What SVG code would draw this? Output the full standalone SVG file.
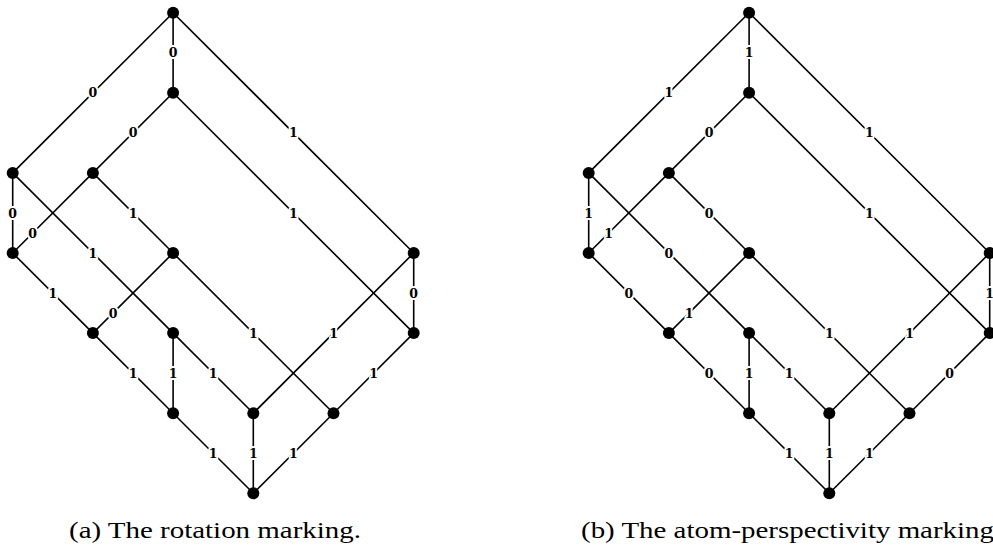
<svg xmlns="http://www.w3.org/2000/svg" width="993" height="552" viewBox="0 0 993 552">
<style>
.e{stroke:#000;stroke-width:1.6;fill:none}
.n{fill:#000}
.l{font-family:"DejaVu Serif",serif;font-size:12.5px;font-weight:bold;text-anchor:middle;dominant-baseline:central;fill:#000;stroke:#fff;stroke-width:4;stroke-linejoin:round;paint-order:stroke}
.cap{font-family:"Liberation Serif","Times New Roman",serif;font-size:24px;fill:#000}
</style>
<defs>
<circle id="dot" r="6" class="n"/>
</defs>
<rect width="993" height="552" fill="#fff"/>

<!-- Graph (a) -->
<g id="graph-a">
<g id="a-edges">
<line class="e" x1="173.1" y1="12.7" x2="173.1" y2="92.8"/>
<line class="e" x1="173.1" y1="12.7" x2="12.7" y2="172.9"/>
<line class="e" x1="173.1" y1="12.7" x2="413.7" y2="253"/>
<line class="e" x1="173.1" y1="92.8" x2="92.9" y2="172.9"/>
<line class="e" x1="173.1" y1="92.8" x2="413.7" y2="333.1"/>
<line class="e" x1="12.7" y1="172.9" x2="12.7" y2="253"/>
<line class="e" x1="12.7" y1="172.9" x2="173.1" y2="333.1"/>
<line class="e" x1="92.9" y1="172.9" x2="12.7" y2="253"/>
<line class="e" x1="92.9" y1="172.9" x2="173.1" y2="253"/>
<line class="e" x1="12.7" y1="253" x2="92.9" y2="333.1"/>
<line class="e" x1="173.1" y1="253" x2="92.9" y2="333.1"/>
<line class="e" x1="173.1" y1="253" x2="333.5" y2="413.2"/>
<line class="e" x1="413.7" y1="253" x2="413.7" y2="333.1"/>
<line class="e" x1="413.7" y1="253" x2="253.3" y2="413.2"/>
<line class="e" x1="92.9" y1="333.1" x2="173.1" y2="413.2"/>
<line class="e" x1="173.1" y1="333.1" x2="173.1" y2="413.2"/>
<line class="e" x1="173.1" y1="333.1" x2="253.3" y2="413.2"/>
<line class="e" x1="413.7" y1="333.1" x2="333.5" y2="413.2"/>
<line class="e" x1="173.1" y1="413.2" x2="253.3" y2="493.3"/>
<line class="e" x1="253.3" y1="413.2" x2="253.3" y2="493.3"/>
<line class="e" x1="333.5" y1="413.2" x2="253.3" y2="493.3"/>
<g id="a-labels">
<text class="l" x="173.1" y="52.7">0</text>
<text class="l" x="92.9" y="92.8">0</text>
<text class="l" x="293.4" y="132.9">1</text>
<text class="l" x="133" y="132.9">0</text>
<text class="l" x="293.4" y="213">1</text>
<text class="l" x="12.7" y="213">0</text>
<text class="l" x="92.9" y="253">1</text>
<text class="l" x="32.7" y="233">0</text>
<text class="l" x="133" y="213">1</text>
<text class="l" x="52.8" y="293">1</text>
<text class="l" x="113" y="313.1">0</text>
<text class="l" x="253.3" y="333.1">1</text>
<text class="l" x="413.7" y="293">0</text>
<text class="l" x="333.5" y="333.1">1</text>
<text class="l" x="133" y="373.1">1</text>
<text class="l" x="173.1" y="373.1">1</text>
<text class="l" x="213.2" y="373.1">1</text>
<text class="l" x="373.6" y="373.1">1</text>
<text class="l" x="213.2" y="453.2">1</text>
<text class="l" x="253.3" y="453.2">1</text>
<text class="l" x="293.4" y="453.2">1</text>
</g>
</g>
<g id="a-T"><use href="#dot" x="173.1" y="12.7"/></g>
<g id="a-A"><use href="#dot" x="173.1" y="92.8"/></g>
<g id="a-B"><use href="#dot" x="12.7" y="172.9"/></g>
<g id="a-C"><use href="#dot" x="92.9" y="172.9"/></g>
<g id="a-D"><use href="#dot" x="12.7" y="253"/></g>
<g id="a-E"><use href="#dot" x="173.1" y="253"/></g>
<g id="a-F"><use href="#dot" x="413.7" y="253"/></g>
<g id="a-G"><use href="#dot" x="92.9" y="333.1"/></g>
<g id="a-H"><use href="#dot" x="173.1" y="333.1"/></g>
<g id="a-I"><use href="#dot" x="413.7" y="333.1"/></g>
<g id="a-J"><use href="#dot" x="173.1" y="413.2"/></g>
<g id="a-K"><use href="#dot" x="253.3" y="413.2"/></g>
<g id="a-L"><use href="#dot" x="333.5" y="413.2"/></g>
<g id="a-M"><use href="#dot" x="253.3" y="493.3"/></g>
<text class="cap" x="69" y="538" textLength="292" lengthAdjust="spacingAndGlyphs">(a) The rotation marking.</text>
</g>

<!-- Graph (b) -->
<g id="graph-b" transform="translate(576,0)">
<g id="b-edges">
<line class="e" x1="173.1" y1="12.7" x2="173.1" y2="92.8"/>
<line class="e" x1="173.1" y1="12.7" x2="12.7" y2="172.9"/>
<line class="e" x1="173.1" y1="12.7" x2="413.7" y2="253"/>
<line class="e" x1="173.1" y1="92.8" x2="92.9" y2="172.9"/>
<line class="e" x1="173.1" y1="92.8" x2="413.7" y2="333.1"/>
<line class="e" x1="12.7" y1="172.9" x2="12.7" y2="253"/>
<line class="e" x1="12.7" y1="172.9" x2="173.1" y2="333.1"/>
<line class="e" x1="92.9" y1="172.9" x2="12.7" y2="253"/>
<line class="e" x1="92.9" y1="172.9" x2="173.1" y2="253"/>
<line class="e" x1="12.7" y1="253" x2="92.9" y2="333.1"/>
<line class="e" x1="173.1" y1="253" x2="92.9" y2="333.1"/>
<line class="e" x1="173.1" y1="253" x2="333.5" y2="413.2"/>
<line class="e" x1="413.7" y1="253" x2="413.7" y2="333.1"/>
<line class="e" x1="413.7" y1="253" x2="253.3" y2="413.2"/>
<line class="e" x1="92.9" y1="333.1" x2="173.1" y2="413.2"/>
<line class="e" x1="173.1" y1="333.1" x2="173.1" y2="413.2"/>
<line class="e" x1="173.1" y1="333.1" x2="253.3" y2="413.2"/>
<line class="e" x1="413.7" y1="333.1" x2="333.5" y2="413.2"/>
<line class="e" x1="173.1" y1="413.2" x2="253.3" y2="493.3"/>
<line class="e" x1="253.3" y1="413.2" x2="253.3" y2="493.3"/>
<line class="e" x1="333.5" y1="413.2" x2="253.3" y2="493.3"/>
<g id="b-labels">
<text class="l" x="173.1" y="52.7">1</text>
<text class="l" x="92.9" y="92.8">1</text>
<text class="l" x="293.4" y="132.9">1</text>
<text class="l" x="133" y="132.9">0</text>
<text class="l" x="293.4" y="213">1</text>
<text class="l" x="12.7" y="213">1</text>
<text class="l" x="92.9" y="253">0</text>
<text class="l" x="32.7" y="233">1</text>
<text class="l" x="133" y="213">0</text>
<text class="l" x="52.8" y="293">0</text>
<text class="l" x="113" y="313.1">1</text>
<text class="l" x="253.3" y="333.1">1</text>
<text class="l" x="413.7" y="293">1</text>
<text class="l" x="333.5" y="333.1">1</text>
<text class="l" x="133" y="373.1">0</text>
<text class="l" x="173.1" y="373.1">1</text>
<text class="l" x="213.2" y="373.1">1</text>
<text class="l" x="373.6" y="373.1">0</text>
<text class="l" x="213.2" y="453.2">1</text>
<text class="l" x="253.3" y="453.2">1</text>
<text class="l" x="293.4" y="453.2">1</text>
</g>
</g>
<g id="b-T"><use href="#dot" x="173.1" y="12.7"/></g>
<g id="b-A"><use href="#dot" x="173.1" y="92.8"/></g>
<g id="b-B"><use href="#dot" x="12.7" y="172.9"/></g>
<g id="b-C"><use href="#dot" x="92.9" y="172.9"/></g>
<g id="b-D"><use href="#dot" x="12.7" y="253"/></g>
<g id="b-E"><use href="#dot" x="173.1" y="253"/></g>
<g id="b-F"><use href="#dot" x="413.7" y="253"/></g>
<g id="b-G"><use href="#dot" x="92.9" y="333.1"/></g>
<g id="b-H"><use href="#dot" x="173.1" y="333.1"/></g>
<g id="b-I"><use href="#dot" x="413.7" y="333.1"/></g>
<g id="b-J"><use href="#dot" x="173.1" y="413.2"/></g>
<g id="b-K"><use href="#dot" x="253.3" y="413.2"/></g>
<g id="b-L"><use href="#dot" x="333.5" y="413.2"/></g>
<g id="b-M"><use href="#dot" x="253.3" y="493.3"/></g>
</g>
<text class="cap" x="581" y="538" textLength="413" lengthAdjust="spacingAndGlyphs">(b) The atom-perspectivity marking</text>
</svg>
